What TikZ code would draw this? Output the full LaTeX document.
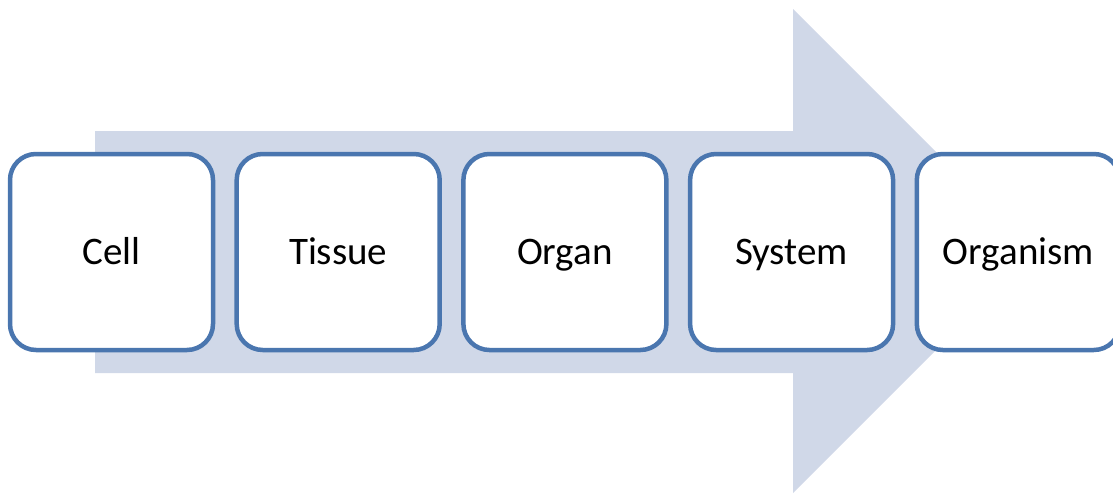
\documentclass[tikz,border=0pt]{standalone}
\usepackage{fontspec}
\setmainfont{Carlito}
\usetikzlibrary{positioning}
\definecolor{stageblue}{HTML}{4A76AF}
\definecolor{arrowfill}{HTML}{D0D8E8}
\begin{document}
\begin{tikzpicture}[
    x=1pt, y=-1pt,
    every node/.style={font=\fontsize{39}{46}\selectfont},
    stage/.style={draw=stageblue, fill=white, line width=4.5pt, rounded corners=26pt,
                  minimum width=203pt, minimum height=196pt, inner sep=0pt,
                  text height=25pt, text depth=0pt},
    node distance=19.2pt,
  ]
    % Frame of the picture
    \useasboundingbox (0,0) rectangle (1113,493);

    % Big arrow behind the stages
    \def\bodyL{95}
    \def\headX{793}
    \def\tipX{1035}
    \fill[arrowfill] (\bodyL,131) -- (\headX,131) -- (\headX,9) -- (\tipX,251)
      -- (\headX,493) -- (\headX,373) -- (\bodyL,373) -- cycle;

    % Stages
    \node[stage] (cell) at (111.5,252) {Cell};
    \node[stage, right=of cell] (tissue) {Tissue};
    \node[stage, right=of tissue] (organ) {Organ};
    \node[stage, right=of organ] (system) {System};
    \node[stage, right=of system] (organism) {Organism};

  \end{tikzpicture}
\end{document}
